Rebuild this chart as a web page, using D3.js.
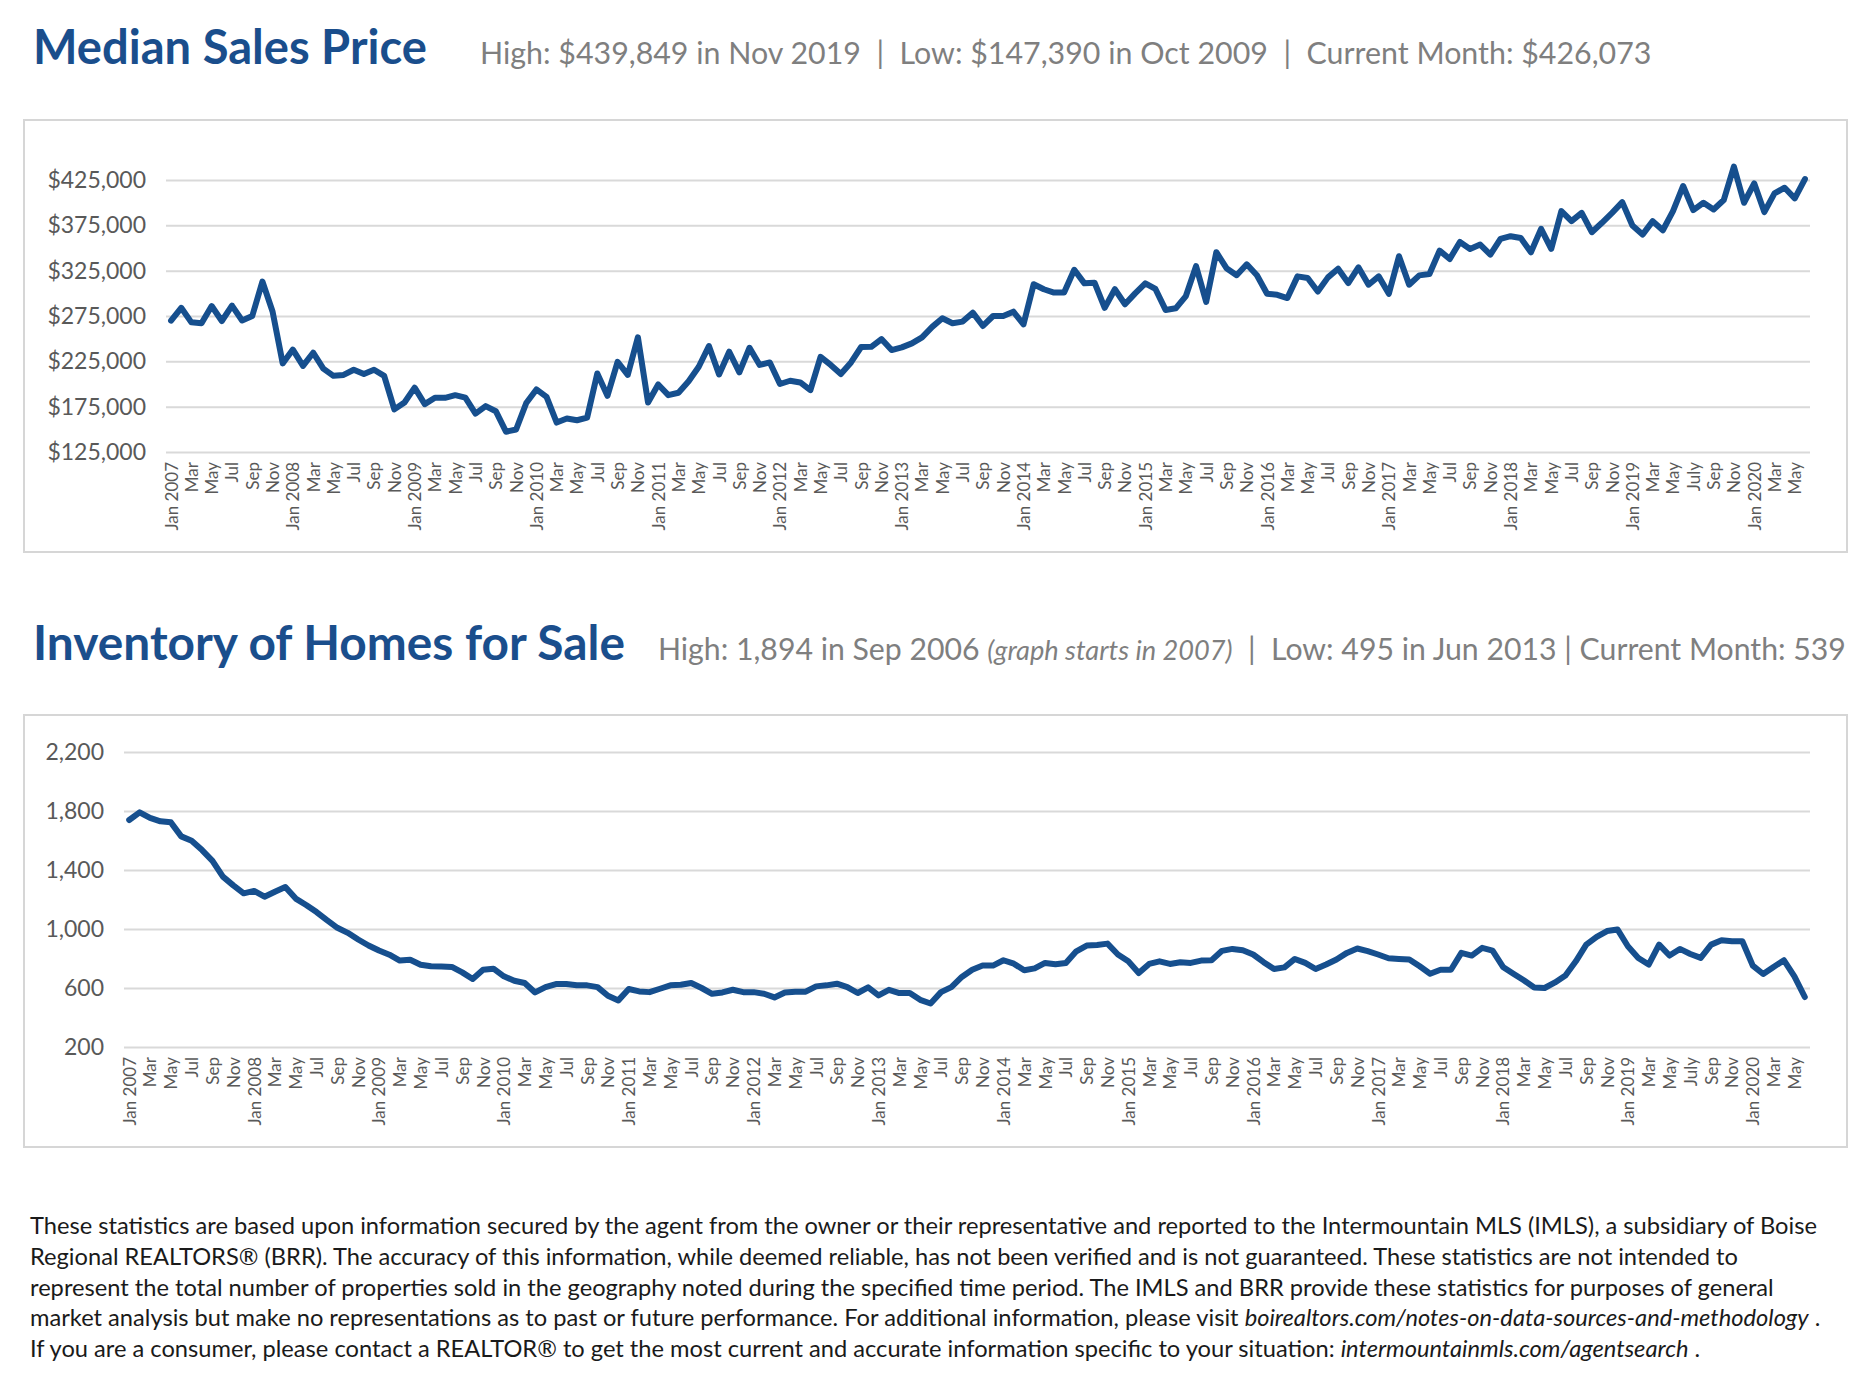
<!DOCTYPE html>
<html><head><meta charset="utf-8">
<script src="https://cdn.jsdelivr.net/npm/d3@7/dist/d3.min.js"></script>
<style>
html,body{margin:0;padding:0;background:#fff;}
svg{display:block;font-family:Lato,"Open Sans",sans-serif;}
text{white-space:pre;}
</style>
</head><body>
<svg id="c" width="1860" height="1394"></svg>
<script>
// ---------- DATA ----------
const monthNames = ["Jan","Feb","Mar","Apr","May","Jun","Jul","Aug","Sep","Oct","Nov","Dec"];
const categories = [];
for (let y = 2007; y <= 2020; y++) for (let m = 0; m < 12; m++) { if (y === 2020 && m > 5) break; categories.push(monthNames[m] + " " + y); }

const tickLabels = [
 "Jan 2007","Mar","May","Jul","Sep","Nov",
 "Jan 2008","Mar","May","Jul","Sep","Nov",
 "Jan 2009","Mar","May","Jul","Sep","Nov",
 "Jan 2010","Mar","May","Jul","Sep","Nov",
 "Jan 2011","Mar","May","Jul","Sep","Nov",
 "Jan 2012","Mar","May","Jul","Sep","Nov",
 "Jan 2013","Mar","May","Jul","Sep","Nov",
 "Jan 2014","Mar","May","Jul","Sep","Nov",
 "Jan 2015","Mar","May","Jul","Sep","Nov",
 "Jan 2016","Mar","May","Jul","Sep","Nov",
 "Jan 2017","Mar","May","Jul","Sep","Nov",
 "Jan 2018","Mar","May","Jul","Sep","Nov",
 "Jan 2019","Mar","May","July","Sep","Nov",
 "Jan 2020","Mar","May"
];

// Median sales price (thousands of $)
const medianPrice = [
 270,284,268,267,286,269.5,286.5,270,275,313,280,222.7,
 238,220,234.5,217,209,210,215.7,211,215.7,209,172,179.6,
 196,177.8,184.8,184.8,187.7,185,167.4,175.6,170,147.39,149.8,179,
 194,185.8,157.5,162,160,163,211.6,187,224.5,210,251.5,179.6,
 199.5,187.7,190.3,203,219,241.9,210.5,235.6,212.8,240,221,223.8,
 200,203.6,201.7,193.2,230,221,211,223.8,240.8,241,249.6,237.4,
 240.4,244.8,251.5,263,272.5,267,268.8,278.7,264,275,275,279.8,
 265.8,310,304.5,300.8,301,326,311,311.8,284,304.5,288,300,
 311,304.8,281.7,283.5,297,330,290.6,345.4,327.7,320,332,320,
 299.5,298.4,294.8,318.7,316.9,302,317.6,327.2,311.3,328.7,309.5,318.7,
 299.5,340.9,309.5,319.8,321.3,347.1,337.9,356.7,349,353.8,342.7,360,
 363,361,345.3,371.1,349,390.7,379.6,388.8,367.4,377.8,388.8,400.6,
 374.8,364.8,379.6,369.6,390.7,418.4,391.8,399.9,392.5,402.9,439.849,399.9,
 421.3,389.6,410.2,416.5,404.7,426.073
];

// Inventory of homes for sale
const inventory = [
 1739,1791,1753,1730,1723,1628,1598,1535,1462,1355,1296,1242,
 1258,1219,1253,1285,1206,1163,1115,1060,1008,974,929,888,
 854,826,786,792,758,747,745,743,706,661,724,731,
 679,649,634,570,606,627,627,618,618,606,547,516,
 593,577,572,595,618,622,634,600,561,570,588,572,
 572,561,536,570,575,575,611,618,629,606,566,604,
 550,588,566,566,520,495,572,606,675,724,752,752,
 788,765,720,733,770,761,770,849,888,892,901,827,
 781,702,763,781,763,775,770,786,788,852,865,856,
 827,775,729,740,797,770,729,759,793,838,868,850,
 827,802,797,793,747,697,724,724,838,820,872,854,
 743,697,652,604,600,638,684,781,894,947,986,997,
 883,804,759,894,820,865,831,804,894,924,917,917,
 752,695,743,788,679,539
];

const priceTicks = [125,175,225,275,325,375,425];
const inventoryTicks = [200,600,1000,1400,1800,2200];

const footerLines = [
 [["These statistics are based upon information secured by the agent from the owner or their representative and reported to the Intermountain MLS (IMLS), a subsidiary of Boise", false]],
 [["Regional REALTORS® (BRR). The accuracy of this information, while deemed reliable, has not been verified and is not guaranteed. These statistics are not intended to", false]],
 [["represent the total number of properties sold in the geography noted during the specified time period. The IMLS and BRR provide these statistics for purposes of general", false]],
 [["market analysis but make no representations as to past or future performance. For additional information, please visit ", false], ["boirealtors.com/notes-on-data-sources-and-methodology", true], [" .", false]],
 [["If you are a consumer, please contact a REALTOR® to get the most current and accurate information specific to your situation: ", false], ["intermountainmls.com/agentsearch", true], [" .", false]]
];

// ---------- DRAW ----------
const svg = d3.select("#c");
const BLUE = "#1a4e8c", LINE = "#164f8e", GREY = "#7f7f7f", AXIS = "#595959", GRID = "#d9d9d9";

function fit(sel, target) {
  const w = sel.node().getComputedTextLength();
  const fs = parseFloat(sel.attr("font-size"));
  sel.attr("font-size", (fs * target / w).toFixed(2));
}

function header(x, baseline, title, titleW, subX, parts, subW) {
  const t = svg.append("text").attr("x", x).attr("y", baseline)
    .attr("font-size", 45).attr("font-weight", 700).attr("fill", BLUE).text(title);
  fit(t, titleW);
  const s = svg.append("text").attr("x", subX).attr("y", baseline)
    .attr("font-size", 28).attr("fill", GREY);
  parts.forEach(p => s.append("tspan").attr("font-style", p[1] ? "italic" : null)
    .attr("font-size", p[1] ? "0.9em" : null).text(p[0]));
  fit(s, subW);
}

function chart(o) {
  svg.append("rect").attr("x", o.box[0]).attr("y", o.box[1]).attr("width", o.box[2]).attr("height", o.box[3])
    .attr("fill", "#fff").attr("stroke", "#d6d6d6").attr("stroke-width", 2);
  const x = d3.scalePoint().domain(categories).range([o.x0, o.x1]).padding(0.5);
  const y = d3.scaleLinear().domain(o.domain).range([o.yBottom, o.yTop]);
  const gy = svg.append("g").attr("transform", `translate(${o.x0},0)`)
    .call(d3.axisLeft(y).tickValues(o.ticks).tickSize(-(o.x1 - o.x0)).tickPadding(o.pad).tickFormat(o.fmt));
  gy.select(".domain").remove();
  gy.selectAll("line").attr("stroke", GRID).attr("stroke-width", 2);
  gy.selectAll("text").attr("fill", AXIS).attr("font-size", o.yFont).attr("font-family", "Lato");
  const tickCats = categories.filter((d, i) => i % 2 === 0);
  const gx = svg.append("g").attr("transform", `translate(0,${o.yBottom})`)
    .call(d3.axisBottom(x).tickValues(tickCats).tickSize(0).tickFormat((d) => tickLabels[categories.indexOf(d) / 2]));
  gx.select(".domain").remove();
  gx.selectAll("text").attr("fill", AXIS).attr("font-size", 17).attr("font-family", "Lato")
    .attr("text-anchor", "end").attr("transform", "rotate(-90)")
    .attr("x", -10).attr("y", 0).attr("dy", "0.35em");
  svg.append("path").datum(o.values)
    .attr("fill", "none").attr("stroke", LINE).attr("stroke-width", 6)
    .attr("stroke-linejoin", "round").attr("stroke-linecap", "round")
    .attr("d", d3.line().x((d, i) => x(categories[i])).y(d => y(d)));
}

header(33, 64, "Median Sales Price", 394, 480,
  [["High: $439,849 in Nov 2019  |  Low: $147,390 in Oct 2009  |  Current Month: $426,073", false]], 1172);

chart({box:[24,120,1823,432], x0:166, x1:1810, yTop:180, yBottom:452, domain:[125,425],
  ticks: priceTicks, pad: 20, yFont: 23, fmt: d => "$" + d3.format(",")(d * 1000), values: medianPrice});

header(33, 660, "Inventory of Homes for Sale", 592, 658,
  [["High: 1,894 in Sep 2006 ", false], ["(graph starts in 2007)", true], ["  |  Low: 495 in Jun 2013 | Current Month: 539", false]], 1188);

chart({box:[24,715,1823,432], x0:124, x1:1810, yTop:752, yBottom:1047, domain:[200,2200],
  ticks: inventoryTicks, pad: 20, yFont: 23, fmt: d3.format(","), values: inventory});

// footer
const fy = [1234, 1265, 1296, 1326, 1357];
let footerSize = 22;
footerLines.forEach((parts, i) => {
  const t = svg.append("text").attr("x", 30).attr("y", fy[i]).attr("font-size", footerSize).attr("fill", "#1a1a1a");
  parts.forEach(p => t.append("tspan").attr("font-style", p[1] ? "italic" : null).text(p[0]));
  if (i === 0) { fit(t, 1788); footerSize = parseFloat(t.attr("font-size")); }
});
</script>
</body></html>
